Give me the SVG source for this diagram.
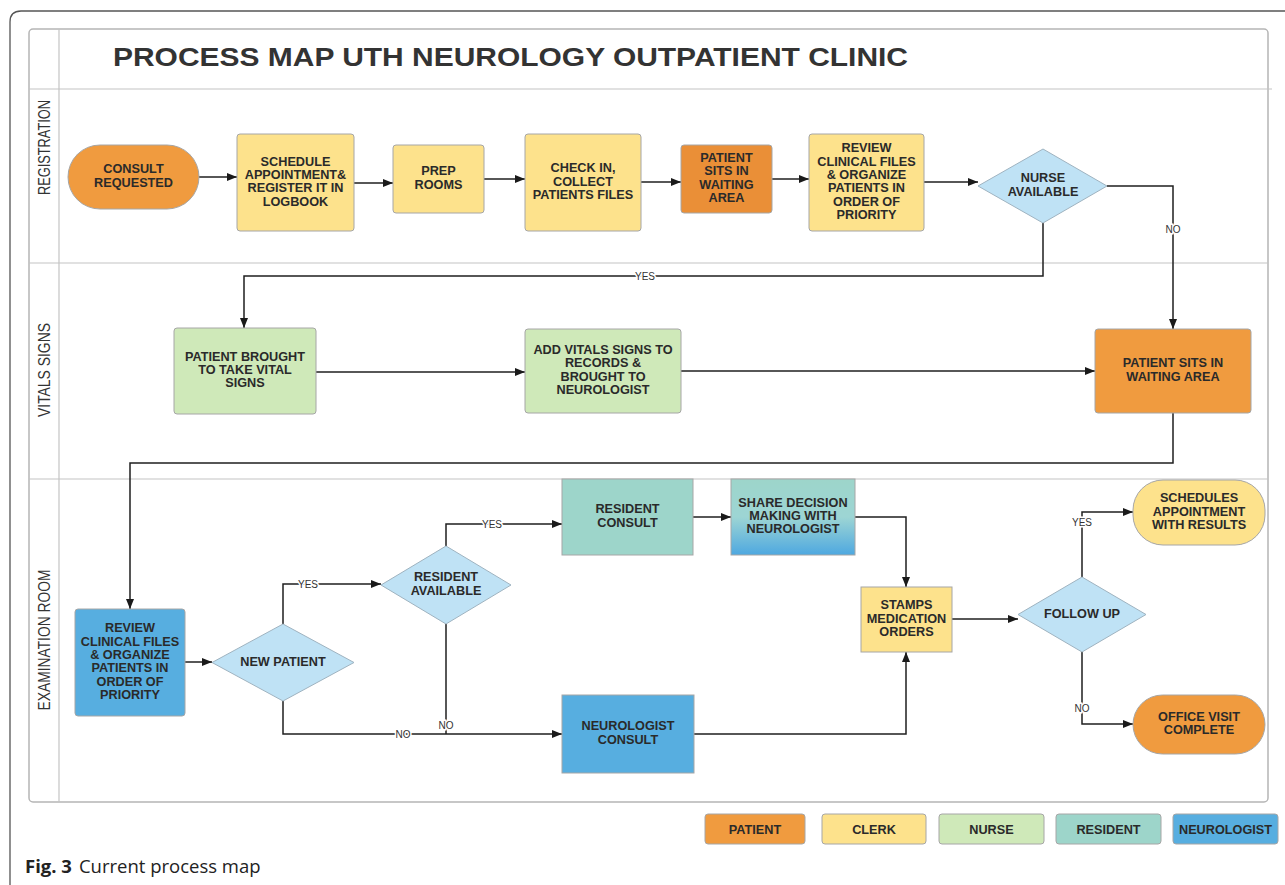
<svg xmlns="http://www.w3.org/2000/svg" width="1285" height="885" viewBox="0 0 1285 885">
<defs>
<marker id="arr" markerWidth="10" markerHeight="8" refX="10" refY="4" orient="auto" markerUnits="userSpaceOnUse">
<path d="M0,0 L10,4 L0,8 z" fill="#1a1a1a"/>
</marker>
<linearGradient id="shareGrad" x1="0" y1="0" x2="0" y2="1">
<stop offset="0" stop-color="#9dd5ca"/>
<stop offset="0.5" stop-color="#9dd5d4"/>
<stop offset="1" stop-color="#4ea8e0"/>
</linearGradient>
<style>
.frame{fill:none;stroke:#b5b5b5;stroke-width:1.5}
.lane{stroke:#c4c4c4;stroke-width:1.2}
.box{stroke:#a6a6a6;stroke-width:1}
.orange{fill:#f09b3f}
.dorange{fill:#ea8f37}
.yellow{fill:#fde28c}
.green{fill:#cfe9b9}
.teal{fill:#9dd5ca}
.blue{fill:#57aee0}
.dia{fill:#bfe2f5;stroke:#9fb3c0;stroke-width:1}
.t{font-family:"Liberation Sans",Arial,sans-serif;font-weight:bold;font-size:12.7px;fill:#2a2a2a;text-anchor:middle}
.lbl{font-family:"Liberation Sans",Arial,sans-serif;font-size:10px;fill:#333;text-anchor:middle;stroke:#fff;stroke-width:3;paint-order:stroke}
.lanet{font-family:"Liberation Sans",Arial,sans-serif;font-size:17px;fill:#333;text-anchor:middle}
.conn{fill:none;stroke:#1f1f1f;stroke-width:1.5}
</style>
</defs>
<rect width="1285" height="885" fill="#fff"/>
<path d="M10,885 V22 Q10,11 21,11 H1285" fill="none" stroke="#555" stroke-width="1.3"/>

<g id="frame">
<rect x="29" y="29" width="1239" height="773" rx="4" class="frame"/>
<line x1="59" y1="29" x2="59" y2="802" class="lane"/>
<line x1="29" y1="89" x2="1272" y2="89" class="lane"/>
<line x1="29" y1="263" x2="1268" y2="263" class="lane"/>
<line x1="29" y1="479" x2="1268" y2="479" class="lane"/>
<text x="113" y="66" font-family="Liberation Sans, Arial, sans-serif" font-weight="bold" font-size="26" fill="#333" textLength="795" lengthAdjust="spacingAndGlyphs">PROCESS MAP UTH NEUROLOGY OUTPATIENT CLINIC</text>
<text class="lanet" transform="translate(50,147.5) rotate(-90)" textLength="95" lengthAdjust="spacingAndGlyphs">REGISTRATION</text>
<text class="lanet" transform="translate(50,370) rotate(-90)" textLength="94" lengthAdjust="spacingAndGlyphs">VITALS SIGNS</text>
<text class="lanet" transform="translate(50,640) rotate(-90)" textLength="141" lengthAdjust="spacingAndGlyphs">EXAMINATION ROOM</text>
</g>

<g id="connectors">
<path class="conn" d="M199,177 H237" marker-end="url(#arr)"/>
<path class="conn" d="M354,183 H393" marker-end="url(#arr)"/>
<path class="conn" d="M484,179 H525" marker-end="url(#arr)"/>
<path class="conn" d="M641,182 H681" marker-end="url(#arr)"/>
<path class="conn" d="M772,179 H809" marker-end="url(#arr)"/>
<path class="conn" d="M924,182 H978" marker-end="url(#arr)"/>
<path class="conn" d="M1107,186 H1173 V329" marker-end="url(#arr)"/>
<path class="conn" d="M1043,223 V276 H244 V328" marker-end="url(#arr)"/>
<path class="conn" d="M316,372 H525" marker-end="url(#arr)"/>
<path class="conn" d="M681,371 H1095" marker-end="url(#arr)"/>
<path class="conn" d="M1173,413 V463 H130 V609" marker-end="url(#arr)"/>
<path class="conn" d="M185,662 H212" marker-end="url(#arr)"/>
<path class="conn" d="M283,624 V584 H381" marker-end="url(#arr)"/>
<path class="conn" d="M446,546 V524 H562" marker-end="url(#arr)"/>
<path class="conn" d="M446,624 V734"/>
<path class="conn" d="M283,701 V734 H562" marker-end="url(#arr)"/>
<path class="conn" d="M693,517 H731" marker-end="url(#arr)"/>
<path class="conn" d="M855,517 H906 V587" marker-end="url(#arr)"/>
<path class="conn" d="M694,734 H906 V652" marker-end="url(#arr)"/>
<path class="conn" d="M952,619 H1018" marker-end="url(#arr)"/>
<path class="conn" d="M1082,577 V512 H1133" marker-end="url(#arr)"/>
<path class="conn" d="M1082,652 V724 H1133" marker-end="url(#arr)"/>
<text class="lbl" x="645" y="280">YES</text>
<text class="lbl" x="1173" y="233">NO</text>
<text class="lbl" x="308" y="588">YES</text>
<text class="lbl" x="492" y="528">YES</text>
<text class="lbl" x="446" y="729">NO</text>
<text class="lbl" x="403" y="738">NO</text>
<text class="lbl" x="1082" y="526">YES</text>
<text class="lbl" x="1082" y="712">NO</text>
</g>

<g id="consult-requested">
<rect x="68" y="145" width="131" height="64" rx="32" class="box orange"/>
<text class="t" x="133.5" y="173.4">CONSULT</text>
<text class="t" x="133.5" y="186.7">REQUESTED</text>
</g>
<g id="schedule-appointment">
<rect x="237" y="134" width="117" height="97" rx="3" class="box yellow"/>
<text class="t" x="295.5" y="165.5">SCHEDULE</text>
<text class="t" x="295.5" y="178.9">APPOINTMENT&amp;</text>
<text class="t" x="295.5" y="192.2">REGISTER IT IN</text>
<text class="t" x="295.5" y="205.5">LOGBOOK</text>
</g>
<g id="prep-rooms">
<rect x="393" y="145" width="91" height="68" rx="3" class="box yellow"/>
<text class="t" x="438.5" y="175.4">PREP</text>
<text class="t" x="438.5" y="188.7">ROOMS</text>
</g>
<g id="check-in">
<rect x="525" y="134" width="116" height="97" rx="3" class="box yellow"/>
<text class="t" x="583" y="172.2">CHECK IN,</text>
<text class="t" x="583" y="185.5">COLLECT</text>
<text class="t" x="583" y="198.8">PATIENTS FILES</text>
</g>
<g id="patient-sits-reg">
<rect x="681" y="145" width="91" height="68" rx="3" class="box dorange"/>
<text class="t" x="726.5" y="162">PATIENT</text>
<text class="t" x="726.5" y="175.4">SITS IN</text>
<text class="t" x="726.5" y="188.7">WAITING</text>
<text class="t" x="726.5" y="202">AREA</text>
</g>
<g id="review-reg">
<rect x="809" y="134" width="115" height="97" rx="3" class="box yellow"/>
<text class="t" x="866.5" y="152.3">REVIEW</text>
<text class="t" x="866.5" y="165.6">CLINICAL FILES</text>
<text class="t" x="866.5" y="178.9">&amp; ORGANIZE</text>
<text class="t" x="866.5" y="192.2">PATIENTS IN</text>
<text class="t" x="866.5" y="205.5">ORDER OF</text>
<text class="t" x="866.5" y="218.8">PRIORITY</text>
</g>
<g id="nurse-available">
<polygon points="1043,149 1107,186 1043,223 978,186" class="dia"/>
<text class="t" x="1043" y="182.4">NURSE</text>
<text class="t" x="1043" y="195.7">AVAILABLE</text>
</g>

<g id="patient-brought">
<rect x="174" y="328" width="142" height="86" rx="3" class="box green"/>
<text class="t" x="245" y="360.7">PATIENT BROUGHT</text>
<text class="t" x="245" y="374">TO TAKE VITAL</text>
<text class="t" x="245" y="387.3">SIGNS</text>
</g>
<g id="add-vitals">
<rect x="525" y="329" width="156" height="84" rx="3" class="box green"/>
<text class="t" x="603" y="354">ADD VITALS SIGNS TO</text>
<text class="t" x="603" y="367.4">RECORDS &amp;</text>
<text class="t" x="603" y="380.7">BROUGHT TO</text>
<text class="t" x="603" y="394">NEUROLOGIST</text>
</g>
<g id="patient-sits-vitals">
<rect x="1095" y="329" width="156" height="84" rx="3" class="box orange"/>
<text class="t" x="1173" y="367.4">PATIENT SITS IN</text>
<text class="t" x="1173" y="380.7">WAITING AREA</text>
</g>

<g id="review-exam">
<rect x="75" y="609" width="110" height="107" rx="3" class="box blue"/>
<text class="t" x="130" y="632.3">REVIEW</text>
<text class="t" x="130" y="645.6">CLINICAL FILES</text>
<text class="t" x="130" y="658.9">&amp; ORGANIZE</text>
<text class="t" x="130" y="672.2">PATIENTS IN</text>
<text class="t" x="130" y="685.5">ORDER OF</text>
<text class="t" x="130" y="698.8">PRIORITY</text>
</g>
<g id="new-patient">
<polygon points="283,624 354,662.5 283,701 212,662.5" class="dia"/>
<text class="t" x="283" y="665.5">NEW PATIENT</text>
</g>
<g id="resident-available">
<polygon points="446,546 511,585 446,624 381,585" class="dia"/>
<text class="t" x="446" y="581.4">RESIDENT</text>
<text class="t" x="446" y="594.7">AVAILABLE</text>
</g>
<g id="resident-consult">
<rect x="562" y="479" width="131" height="76" class="box teal"/>
<text class="t" x="627.5" y="513.4">RESIDENT</text>
<text class="t" x="627.5" y="526.7">CONSULT</text>
</g>
<g id="share-decision">
<rect x="731" y="479" width="124" height="76" fill="url(#shareGrad)" stroke="#a6a6a6" stroke-width="1"/>
<text class="t" x="793" y="506.7">SHARE DECISION</text>
<text class="t" x="793" y="520">MAKING WITH</text>
<text class="t" x="793" y="533.3">NEUROLOGIST</text>
</g>
<g id="neurologist-consult">
<rect x="562" y="695" width="132" height="78" class="box blue"/>
<text class="t" x="628" y="730.4">NEUROLOGIST</text>
<text class="t" x="628" y="743.7">CONSULT</text>
</g>
<g id="stamps-medication">
<rect x="861" y="587" width="91" height="65" class="box yellow"/>
<text class="t" x="906.5" y="609.2">STAMPS</text>
<text class="t" x="906.5" y="622.5">MEDICATION</text>
<text class="t" x="906.5" y="635.8">ORDERS</text>
</g>
<g id="follow-up">
<polygon points="1082,577 1146,614.5 1082,652 1018,614.5" class="dia"/>
<text class="t" x="1082" y="617.5">FOLLOW UP</text>
</g>
<g id="schedules-appointment">
<rect x="1133" y="480" width="132" height="65" rx="30" class="box yellow"/>
<text class="t" x="1199" y="502.2">SCHEDULES</text>
<text class="t" x="1199" y="515.5">APPOINTMENT</text>
<text class="t" x="1199" y="528.8">WITH RESULTS</text>
</g>
<g id="office-visit">
<rect x="1133" y="695" width="132" height="59" rx="29.5" class="box orange"/>
<text class="t" x="1199" y="720.9">OFFICE VISIT</text>
<text class="t" x="1199" y="734.2">COMPLETE</text>
</g>

<g id="legend">
<rect x="705" y="814" width="100" height="30" rx="3" class="box orange"/>
<text class="t" x="755" y="833.5">PATIENT</text>
<rect x="822" y="814" width="104" height="30" rx="3" class="box yellow"/>
<text class="t" x="874" y="833.5">CLERK</text>
<rect x="939" y="814" width="105" height="30" rx="3" class="box green"/>
<text class="t" x="991.5" y="833.5">NURSE</text>
<rect x="1056" y="814" width="105" height="30" rx="3" class="box teal"/>
<text class="t" x="1108.5" y="833.5">RESIDENT</text>
<rect x="1173" y="814" width="105" height="30" rx="3" class="box blue"/>
<text class="t" x="1225.5" y="833.5">NEUROLOGIST</text>
</g>

<text x="25" y="873" font-family="Open Sans, Noto Sans, sans-serif" font-size="18.5" fill="#222"><tspan font-weight="bold">Fig. 3</tspan><tspan dx="7">Current process map</tspan></text>
</svg>
